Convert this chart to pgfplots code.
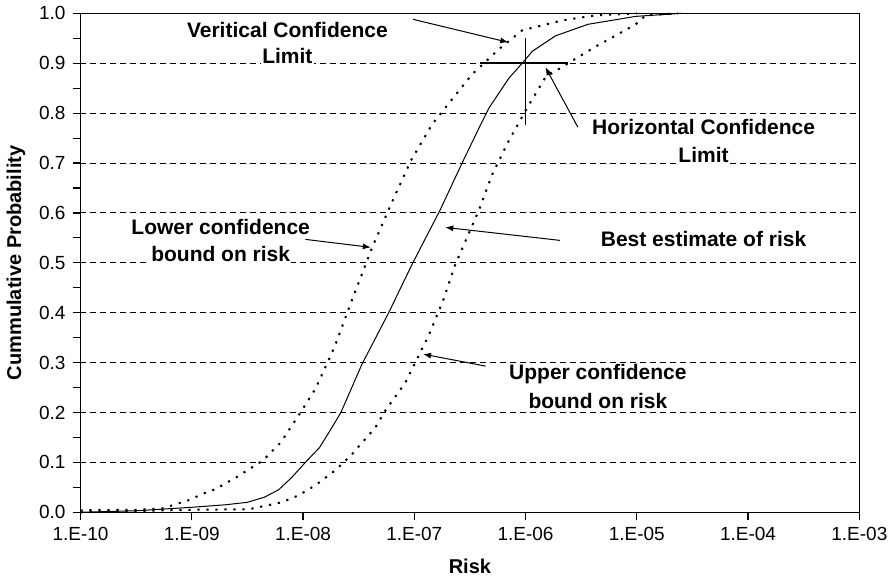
\documentclass[border=0pt]{standalone}
\usepackage{fontspec}
\setmainfont{Liberation Sans}
\usepackage{pgfplots}
\pgfplotsset{compat=1.18}
\usetikzlibrary{arrows.meta}

\begin{document}
\begin{tikzpicture}
\begin{axis}[
    scale only axis,
    width=389.5pt, height=249.5pt,
    xmode=log, log basis x=10,
    xmin=1e-10, xmax=1e-3,
    ymin=0, ymax=1,
    xtick={1e-10,1e-9,1e-8,1e-7,1e-6,1e-5,1e-4,1e-3},
    xticklabels={1.E-10,1.E-09,1.E-08,1.E-07,1.E-06,1.E-05,1.E-04,1.E-03},
    xminorticks=false,
    ytick={0,0.1,...,1.0},
    yticklabel style={/pgf/number format/.cd,fixed,fixed zerofill,precision=1},
    /pgf/number format/assume math mode=true,
    minor y tick num=1,
    tick align=outside,
    tick pos=left,
    major tick length=4pt, minor tick length=4pt,
    tick style={black, line width=0.6pt},
    ymajorgrids=true,
    grid style={black, dash pattern=on 3pt off 2pt, line width=0.5pt},
    axis line style={line width=0.6pt},
    ticklabel style={font=\fontsize{9.5}{10}\selectfont},
    xlabel={\bfseries Risk},
    ylabel={\bfseries Cummulative Probability},
    label style={font=\fontsize{10}{11}\selectfont},
    xlabel style={yshift=-2pt},
    clip=false,
]
% best estimate
\addplot[black, line width=0.5pt] coordinates {
(1e-10,0.0) (3.16e-10,0.003) (1e-9,0.01) (2e-9,0.015) (3.16e-9,0.02)
(4.47e-9,0.03) (6.03e-9,0.045) (7.94e-9,0.07) (1.05e-8,0.1) (1.41e-8,0.13)
(1.82e-8,0.17) (2.19e-8,0.2) (3.39e-8,0.297) (5.89e-8,0.4) (9.55e-8,0.497)
(1.70e-7,0.605) (2.69e-7,0.70) (3.72e-7,0.765) (4.68e-7,0.81) (7.08e-7,0.87)
(9.33e-7,0.90) (1.15e-6,0.924) (1.86e-6,0.955) (3.63e-6,0.978) (9.77e-6,0.994)
(2.51e-5,1.0)
};
% lower confidence bound
\addplot[black, line width=1pt, dash pattern=on 1.1pt off 3.4pt] coordinates {
(1e-10,0.004) (3.16e-10,0.005) (5.5e-10,0.008) (9.33e-10,0.024) (1.29e-9,0.038)
(1.62e-9,0.046) (2.51e-9,0.07) (4.37e-9,0.104) (6.31e-9,0.14) (9.12e-9,0.194)
(1.29e-8,0.247) (1.91e-8,0.33) (2.75e-8,0.425) (4.17e-8,0.53) (6.17e-8,0.617)
(9.33e-8,0.705) (1.45e-7,0.778) (3.31e-7,0.878) (5.75e-7,0.928) (9.33e-7,0.966)
(2.14e-6,0.986) (4.27e-6,0.996) (1e-5,1.0)
};
% upper confidence bound
\addplot[black, line width=1pt, dash pattern=on 1.1pt off 3.4pt] coordinates {
(1e-10,0.0) (1e-9,0.005) (3.24e-9,0.006) (6.46e-9,0.02) (9.12e-9,0.034)
(1.29e-8,0.054) (1.95e-8,0.084) (2.75e-8,0.116) (4.47e-8,0.17) (5.5e-8,0.204)
(8.32e-8,0.26) (1.35e-7,0.355) (1.82e-7,0.425) (2.34e-7,0.497) (3.8e-7,0.605)
(5.01e-7,0.677) (7.08e-7,0.745) (1e-6,0.805) (1.51e-6,0.872) (2.95e-6,0.912)
(4.47e-6,0.936) (6.76e-6,0.958) (9.77e-6,0.978) (1.2e-5,0.996) (2.34e-5,1.0)
};
% confidence limits
\addplot[black, line width=0.8pt] coordinates {(1e-6,0.776) (1e-6,0.95)};
\addplot[black, line width=0.8pt] coordinates {(3.9e-7,0.9) (2.4e-6,0.9)};

% annotations
\tikzset{ann/.style={font=\fontsize{10.5}{12}\selectfont\bfseries, fill=white, inner sep=0.6pt},
         arr/.style={-{Latex[length=4pt,width=3pt]}, line width=0.5pt}}
\node[ann] at (axis cs:7.24e-9,0.966) {Veritical Confidence};
\node[ann] at (axis cs:7.24e-9,0.914) {Limit};
\draw[arr] (axis cs:9.77e-8,0.988) -- (axis cs:7.0e-7,0.942);
\node[ann] at (axis cs:3.98e-5,0.772) {Horizontal Confidence};
\node[ann] at (axis cs:3.98e-5,0.716) {Limit};
\draw[arr] (axis cs:2.95e-6,0.772) -- (axis cs:1.51e-6,0.892);
\node[ann] at (axis cs:1.82e-9,0.571) {Lower confidence};
\node[ann] at (axis cs:1.82e-9,0.517) {bound on risk};
\draw[arr] (axis cs:1.05e-8,0.547) -- (axis cs:4.07e-8,0.531);
\node[ann] at (axis cs:3.98e-5,0.547) {Best estimate of risk};
\draw[arr] (axis cs:2.04e-6,0.545) -- (axis cs:1.9e-7,0.571);
\node[ann] at (axis cs:4.47e-6,0.277) {Upper confidence};
\node[ann] at (axis cs:4.47e-6,0.224) {bound on risk};
\draw[arr] (axis cs:4.37e-7,0.293) -- (axis cs:1.2e-7,0.317);
\end{axis}
\end{tikzpicture}
\end{document}
